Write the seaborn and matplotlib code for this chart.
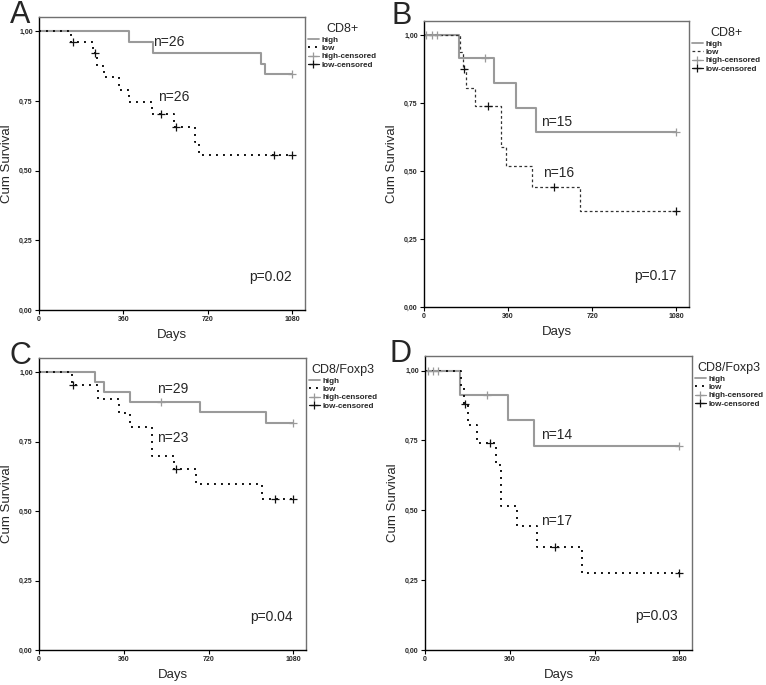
import numpy as np
import matplotlib
matplotlib.use('Agg')
import matplotlib.pyplot as plt
from matplotlib.lines import Line2D
import seaborn as sns

# ── Data ──────────────────────────────────────────────────────
# Panel A: CD8+
a_high_t = [0, 385, 485, 946, 963, 1080]
a_high_s = [1.0, 0.962, 0.923, 0.885, 0.846, 0.846]
a_high_cens = [1080]
a_low_t = [0, 136, 232, 246, 276, 342, 385, 480, 575, 665, 684, 1080]
a_low_s = [1.0, 0.962, 0.921, 0.877, 0.835, 0.791, 0.747, 0.703, 0.656, 0.604, 0.555, 0.555]
a_low_cens = [146, 239, 520, 583, 1002, 1080]

# Panel B: CD8+
b_high_t = [0, 151, 300, 393, 479, 1080]
b_high_s = [1.0, 0.917, 0.825, 0.733, 0.642, 0.642]
b_high_cens = [9, 33, 54, 261, 1080]
b_low_t = [0, 154, 168, 178, 219, 328, 353, 463, 667, 1080]
b_low_s = [1.0, 0.9375, 0.875, 0.806, 0.738, 0.59, 0.52, 0.443, 0.354, 0.354]
b_low_cens = [172, 272, 556, 1080]

# Panel C: CD8/Foxp3
c_high_t = [0, 236, 277, 385, 684, 966, 1080]
c_high_s = [1.0, 0.965, 0.929, 0.893, 0.857, 0.818, 0.818]
c_high_cens = [520, 1080]
c_low_t = [0, 139, 249, 341, 385, 480, 575, 665, 946, 1080]
c_low_s = [1.0, 0.956, 0.904, 0.853, 0.802, 0.70, 0.653, 0.599, 0.543, 0.543]
c_low_cens = [146, 583, 1003, 1080]

# Panel D: CD8/Foxp3
d_high_t = [0, 150, 353, 463, 1080]
d_high_s = [1.0, 0.914, 0.824, 0.731, 0.731]
d_high_cens = [11, 33, 54, 263, 1080]
d_low_t = [0, 153, 167, 182, 220, 300, 324, 392, 476, 667, 1080]
d_low_s = [1.0, 0.941, 0.881, 0.806, 0.741, 0.663, 0.516, 0.442, 0.368, 0.275, 0.275]
d_low_cens = [172, 274, 553, 1080]

panel_letters = ['A', 'B', 'C', 'D']
legend_titles = ['CD8+', 'CD8+', 'CD8/Foxp3', 'CD8/Foxp3']
n_high = ['n=26', 'n=15', 'n=29', 'n=14']
n_low = ['n=26', 'n=16', 'n=23', 'n=17']
p_labels = ['p=0.02', 'p=0.17', 'p=0.04', 'p=0.03']
x_ticks = [0, 360, 720, 1080]
y_ticks = [0.0, 0.25, 0.5, 0.75, 1.0]
y_tick_labels = ['0,00', '0,25', '0,50', '0,75', '1,00']

# ── Styling ──────────────────────────────────────────────────
sns.set_style('ticks')
plt.rcParams['font.family'] = ['Liberation Sans', 'DejaVu Sans']

HIGH_C = '#9a9a9a'
LOW_C = '#111111'

W, H = 766, 685
fig = plt.figure(figsize=(W / 100, H / 100), dpi=100)

# axes boxes in pixels: left, top, right, bottom
boxes = [(39, 17, 305, 310), (424, 21, 689, 307),
         (39, 358, 306, 650), (425, 356, 692, 650)]
letter_pos = [(20, 15), (402, 16), (20, 356), (401, 354)]
# text positions in data coords
n_high_xy = [(486, 0.961), (499, 0.682), (503, 0.941), (492, 0.771)]
n_low_xy = [(507, 0.763), (508, 0.492), (503, 0.765), (492, 0.461)]
p_xy = [(1080, 0.119), (1083, 0.115), (1080, 0.119), (1075, 0.123)]

curves = [
    (a_high_t, a_high_s, a_high_cens, a_low_t, a_low_s, a_low_cens),
    (b_high_t, b_high_s, b_high_cens, b_low_t, b_low_s, b_low_cens),
    (c_high_t, c_high_s, c_high_cens, c_low_t, c_low_s, c_low_cens),
    (d_high_t, d_high_s, d_high_cens, d_low_t, d_low_s, d_low_cens),
]


def step_value(t, s, x):
    idx = np.searchsorted(np.asarray(t), x, side='right') - 1
    return np.asarray(s)[idx]


for i, (box, data) in enumerate(zip(boxes, curves)):
    l, t, r, b = box
    ax = fig.add_axes([l / W, 1 - b / H, (r - l) / W, (b - t) / H])
    ht, hs, hc, lt, ls, lc = data

    low_style = (0, (1, 2.6)) if i != 1 else (0, (2.2, 2))
    low_lw = 1.4 if i != 1 else 0.9
    low_col = LOW_C if i != 1 else '#333333'

    sns.lineplot(x=ht, y=hs, ax=ax, color=HIGH_C, lw=1.5,
                 drawstyle='steps-post', estimator=None, sort=False)
    sns.lineplot(x=lt, y=ls, ax=ax, color=low_col, lw=low_lw,
                 linestyle=low_style, drawstyle='steps-post',
                 estimator=None, sort=False)

    # censored marks
    ax.plot(hc, step_value(ht, hs, hc), ls='none', marker='+',
            ms=5.5, mew=0.9, color=HIGH_C)
    ax.plot(lc, step_value(lt, ls, lc), ls='none', marker='+',
            ms=5.5, mew=0.9, color=LOW_C)

    ax.set_xlim(0, 1134)
    ax.set_ylim(0, 1.052)
    ax.set_xticks(x_ticks)
    ax.set_xticklabels([str(v) for v in x_ticks])
    ax.set_yticks(y_ticks)
    ax.set_yticklabels(y_tick_labels)
    ax.tick_params(labelsize=5, length=3, width=0.8, pad=1.5, color='black')
    for lab in ax.get_xticklabels() + ax.get_yticklabels():
        lab.set_fontweight('bold')
    ax.set_xlabel('Days', fontsize=9.5, labelpad=4)
    ax.set_ylabel('Cum Survival', fontsize=9.5, labelpad=4)

    for side in ['left', 'bottom']:
        ax.spines[side].set_color('black')
        ax.spines[side].set_linewidth(1.0)
    for side in ['top', 'right']:
        ax.spines[side].set_visible(True)
        ax.spines[side].set_color('#707070')
        ax.spines[side].set_linewidth(1.0)

    ax.text(*n_high_xy[i], n_high[i], fontsize=10, ha='left', va='center')
    ax.text(*n_low_xy[i], n_low[i], fontsize=10, ha='left', va='center')
    ax.text(*p_xy[i], p_labels[i], fontsize=10, ha='right', va='center')

    handles = [
        Line2D([], [], color=HIGH_C, lw=1.3),
        Line2D([], [], color=low_col, lw=low_lw, linestyle=low_style),
        Line2D([], [], color=HIGH_C, lw=0.9, marker='+', ms=6, mew=0.9),
        Line2D([], [], color=LOW_C, lw=0.9, marker='+', ms=6, mew=0.9),
    ]
    leg = ax.legend(handles, ['high', 'low', 'high-censored', 'low-censored'],
                    title=legend_titles[i], loc='upper left',
                    bbox_to_anchor=(1.0, 0.99), frameon=False,
                    fontsize=5.8, title_fontsize=9, handlelength=1.3,
                    handletextpad=0.3, labelspacing=0.1, borderaxespad=0.2,
                    borderpad=0.2)
    for txt in leg.get_texts():
        txt.set_fontweight('bold')

    fig.text(letter_pos[i][0] / W, 1 - letter_pos[i][1] / H, panel_letters[i],
             fontsize=22, ha='center', va='center')

fig.savefig('out.png', dpi=100)
